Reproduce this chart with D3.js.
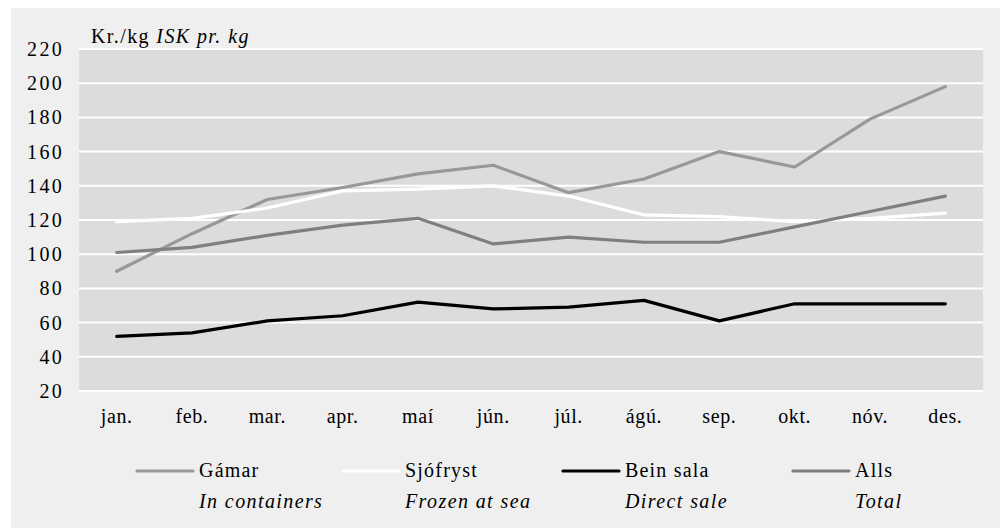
<!DOCTYPE html>
<html>
<head>
<meta charset="utf-8">
<script src="https://cdn.jsdelivr.net/npm/d3@7"></script>
<style>
  body { margin: 0; background: #fff; }
  svg text { font-family: "Liberation Serif", "Times New Roman", Times, Tinos, "Nimbus Roman", "Noto Serif", "DejaVu Serif", serif !important; fill: #000; }
</style>
</head>
<body>
<div id="chart"></div>
<script>
// ---- data ----
const months = ["jan.", "feb.", "mar.", "apr.", "maí", "jún.", "júl.", "ágú.", "sep.", "okt.", "nóv.", "des."];
const gamar     = [90, 112, 132, 139, 147, 152, 136, 144, 160, 151, 179, 198];
const sjofryst  = [119, 121, 127, 137, 138, 140, 134, 123, 122, 119, 121, 124];
const beinSala  = [52, 54, 61, 64, 72, 68, 69, 73, 61, 71, 71, 71];
const alls      = [101, 104, 111, 117, 121, 106, 110, 107, 107, 116, 125, 134];
const yTicks    = [20, 40, 60, 80, 100, 120, 140, 160, 180, 200, 220];

const seriesNames = ["Gámar", "Sjófryst", "Bein sala", "Alls"];
const seriesEnglish = ["In containers", "Frozen at sea", "Direct sale", "Total"];
const seriesValues = [gamar, sjofryst, beinSala, alls];
const seriesColors = ["#989898", "#ffffff", "#000000", "#7f7f7f"];

// ---- layout ----
const W = 1000, H = 528;
const plot = { left: 79, right: 983, top: 49, bottom: 391 };
const legendX = [137, 343, 563, 793];

const svg = d3.select("#chart").append("svg")
  .attr("width", W).attr("height", H);

// outer background
svg.append("rect")
  .attr("x", 11).attr("y", 8)
  .attr("width", W - 11).attr("height", H - 8)
  .attr("fill", "#efefef");

// plot area
svg.append("rect")
  .attr("x", plot.left).attr("y", plot.top)
  .attr("width", plot.right - plot.left).attr("height", plot.bottom - plot.top)
  .attr("fill", "#dcdcdc");

const x = d3.scaleBand().domain(months).range([plot.left, plot.right]);
const y = d3.scaleLinear().domain([20, 220]).range([plot.bottom, plot.top]);

// gridlines
svg.append("g").selectAll("line")
  .data(yTicks)
  .join("line")
  .attr("x1", plot.left).attr("x2", plot.right)
  .attr("y1", d => y(d)).attr("y2", d => y(d))
  .attr("stroke", "#fff").attr("stroke-width", 2);

// y axis labels
const yAxis = svg.append("g")
  .attr("transform", `translate(${plot.left},0)`)
  .call(d3.axisLeft(y).tickValues(yTicks).tickSize(0).tickPadding(15));
yAxis.select(".domain").remove();
yAxis.attr("font-family", null);
yAxis.selectAll("text")
  .attr("font-size", 20).attr("fill", "#000")
  .attr("letter-spacing", 2.3);

// x axis labels
const xAxis = svg.append("g")
  .attr("transform", `translate(0,${plot.bottom})`)
  .call(d3.axisBottom(x).tickSize(0).tickPadding(18));
xAxis.select(".domain").remove();
xAxis.attr("font-family", null);
xAxis.selectAll("text")
  .attr("font-size", 20).attr("fill", "#000")
  .attr("letter-spacing", 0.6);

// unit label
const unit = svg.append("text")
  .attr("x", 91).attr("y", 43)
  .attr("font-size", 20)
  .attr("letter-spacing", 1.4);
unit.append("tspan").text("Kr./kg  ");
unit.append("tspan").attr("font-style", "italic").text("ISK pr. kg");

// lines
const line = d3.line()
  .x((d, i) => x(months[i]) + x.bandwidth() / 2)
  .y(d => y(d));

svg.append("g").selectAll("path")
  .data(seriesValues)
  .join("path")
  .attr("d", d => line(d))
  .attr("fill", "none")
  .attr("stroke", (d, i) => seriesColors[i])
  .attr("stroke-width", 3.2)
  .attr("stroke-linejoin", "round")
  .attr("stroke-linecap", "round");

// legend
const legend = svg.append("g").selectAll("g")
  .data(seriesNames)
  .join("g")
  .attr("transform", (d, i) => `translate(${legendX[i]},0)`);

legend.append("line")
  .attr("x1", 0).attr("x2", 56)
  .attr("y1", 471).attr("y2", 471)
  .attr("stroke", (d, i) => seriesColors[i])
  .attr("stroke-width", 3.2)
  .attr("stroke-linecap", "round");

legend.append("text")
  .attr("x", 62).attr("y", 477)
  .attr("font-size", 20)
  .attr("letter-spacing", 1.2)
  .text(d => d);

legend.append("text")
  .attr("x", 62).attr("y", 508)
  .attr("font-size", 20)
  .attr("font-style", "italic")
  .attr("letter-spacing", 1.4)
  .text((d, i) => seriesEnglish[i]);
</script>
</body>
</html>
